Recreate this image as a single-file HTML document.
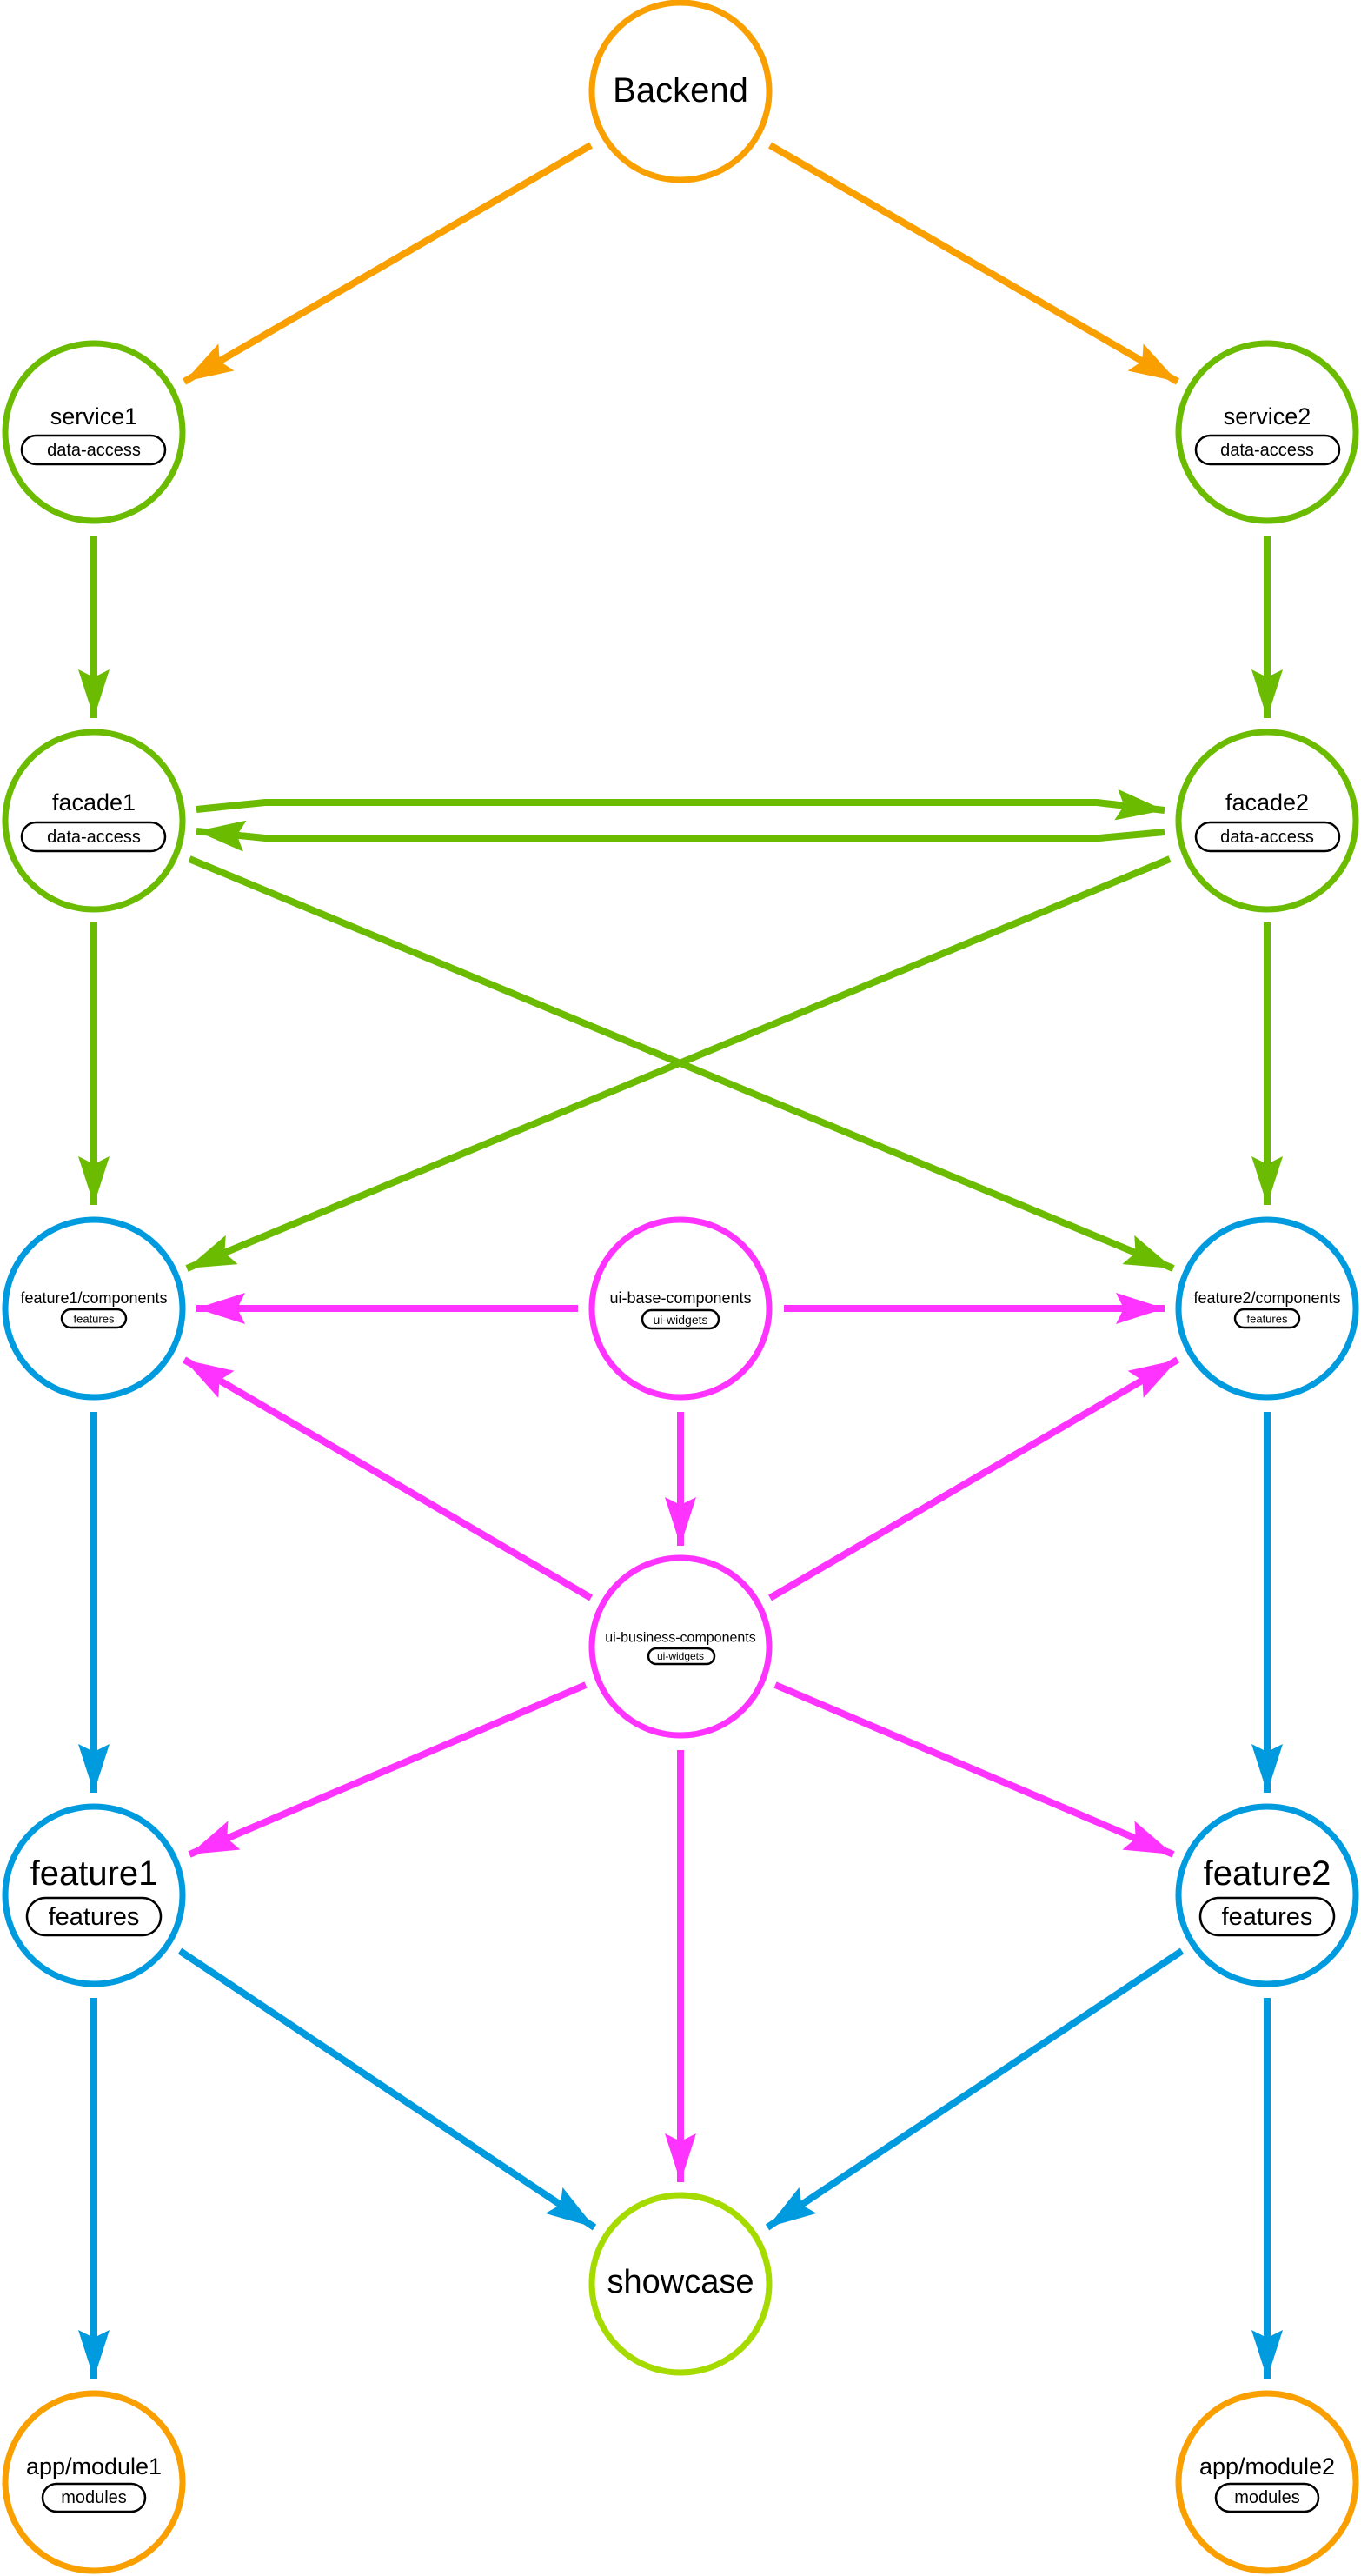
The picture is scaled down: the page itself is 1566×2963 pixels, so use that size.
<!DOCTYPE html>
<html><head><meta charset="utf-8"><style>
html,body{margin:0;padding:0;background:#fff;}
svg{display:block;}
text{font-family:"Liberation Sans",Arial,sans-serif;fill:#000;text-anchor:middle;dominant-baseline:central;}
</style></head><body>
<svg width="1566" height="2963" viewBox="0 0 1566 2963" xmlns="http://www.w3.org/2000/svg">
<defs>
<marker id="ao" markerUnits="userSpaceOnUse" viewBox="0 0 56 36" refX="56" refY="18" markerWidth="56" markerHeight="36" orient="auto"><path d="M0,0 L56,18 L0,36 L9,18 Z" fill="#F9A000"/></marker>
<marker id="ag" markerUnits="userSpaceOnUse" viewBox="0 0 56 36" refX="56" refY="18" markerWidth="56" markerHeight="36" orient="auto"><path d="M0,0 L56,18 L0,36 L9,18 Z" fill="#6BBB00"/></marker>
<marker id="ab" markerUnits="userSpaceOnUse" viewBox="0 0 56 36" refX="56" refY="18" markerWidth="56" markerHeight="36" orient="auto"><path d="M0,0 L56,18 L0,36 L9,18 Z" fill="#009ADE"/></marker>
<marker id="am" markerUnits="userSpaceOnUse" viewBox="0 0 56 36" refX="56" refY="18" markerWidth="56" markerHeight="36" orient="auto"><path d="M0,0 L56,18 L0,36 L9,18 Z" fill="#FF33FF"/></marker>
</defs>
<g fill="none" stroke-width="8">
<!-- orange -->
<line x1="680" y1="167" x2="212" y2="439" stroke="#F9A000" marker-end="url(#ao)"/>
<line x1="886" y1="167" x2="1355" y2="439" stroke="#F9A000" marker-end="url(#ao)"/>
<!-- green -->
<line x1="108" y1="616" x2="108" y2="826" stroke="#6BBB00" marker-end="url(#ag)"/>
<line x1="1458" y1="616" x2="1458" y2="826" stroke="#6BBB00" marker-end="url(#ag)"/>
<polyline points="226,931 305,923 1262,923 1340,932" stroke="#6BBB00" marker-end="url(#ag)"/>
<polyline points="1340,957 1265,964 305,964 226,956" stroke="#6BBB00" marker-end="url(#ag)"/>
<line x1="108" y1="1061" x2="108" y2="1386" stroke="#6BBB00" marker-end="url(#ag)"/>
<line x1="1458" y1="1061" x2="1458" y2="1386" stroke="#6BBB00" marker-end="url(#ag)"/>
<line x1="218" y1="988" x2="1350" y2="1459" stroke="#6BBB00" marker-end="url(#ag)"/>
<line x1="1346" y1="988" x2="215" y2="1459" stroke="#6BBB00" marker-end="url(#ag)"/>
<!-- magenta -->
<line x1="665" y1="1505" x2="226" y2="1505" stroke="#FF33FF" marker-end="url(#am)"/>
<line x1="902" y1="1505" x2="1340" y2="1505" stroke="#FF33FF" marker-end="url(#am)"/>
<line x1="783" y1="1624" x2="783" y2="1778" stroke="#FF33FF" marker-end="url(#am)"/>
<line x1="680" y1="1838" x2="212" y2="1564" stroke="#FF33FF" marker-end="url(#am)"/>
<line x1="886" y1="1838" x2="1355" y2="1564" stroke="#FF33FF" marker-end="url(#am)"/>
<line x1="674" y1="1938" x2="218" y2="2133" stroke="#FF33FF" marker-end="url(#am)"/>
<line x1="892" y1="1938" x2="1350" y2="2133" stroke="#FF33FF" marker-end="url(#am)"/>
<line x1="783" y1="2013" x2="783" y2="2510" stroke="#FF33FF" marker-end="url(#am)"/>
<!-- blue -->
<line x1="108" y1="1624" x2="108" y2="2062" stroke="#009ADE" marker-end="url(#ab)"/>
<line x1="1458" y1="1624" x2="1458" y2="2062" stroke="#009ADE" marker-end="url(#ab)"/>
<line x1="207" y1="2244" x2="684" y2="2562" stroke="#009ADE" marker-end="url(#ab)"/>
<line x1="1360" y1="2244" x2="883" y2="2562" stroke="#009ADE" marker-end="url(#ab)"/>
<line x1="108" y1="2298" x2="108" y2="2736" stroke="#009ADE" marker-end="url(#ab)"/>
<line x1="1458" y1="2298" x2="1458" y2="2736" stroke="#009ADE" marker-end="url(#ab)"/>
</g>
<g fill="#fff" stroke-width="7">
<circle cx="783" cy="105" r="102" stroke="#F9A000"/>
<circle cx="108" cy="497" r="102" stroke="#6BBB00"/>
<circle cx="1458" cy="497" r="102" stroke="#6BBB00"/>
<circle cx="108" cy="944" r="102" stroke="#6BBB00"/>
<circle cx="1458" cy="944" r="102" stroke="#6BBB00"/>
<circle cx="108" cy="1505" r="102" stroke="#009ADE"/>
<circle cx="783" cy="1505" r="102" stroke="#FF33FF"/>
<circle cx="1458" cy="1505" r="102" stroke="#009ADE"/>
<circle cx="783" cy="1894" r="102" stroke="#FF33FF"/>
<circle cx="108" cy="2180" r="102" stroke="#009ADE"/>
<circle cx="1458" cy="2180" r="102" stroke="#009ADE"/>
<circle cx="783" cy="2627" r="102" stroke="#A6DB00"/>
<circle cx="108" cy="2855" r="102" stroke="#F9A000"/>
<circle cx="1458" cy="2855" r="102" stroke="#F9A000"/>
</g>
<g fill="#fff" stroke="#000" stroke-width="2.5">
<rect x="25" y="501" width="165" height="33" rx="16.5"/>
<rect x="1376" y="501" width="165" height="33" rx="16.5"/>
<rect x="25" y="946" width="165" height="33" rx="16.5"/>
<rect x="1376" y="946" width="165" height="33" rx="16.5"/>
<rect x="71" y="1506" width="74" height="21" rx="10.5"/>
<rect x="1421" y="1506" width="74" height="21" rx="10.5"/>
<rect x="739" y="1507" width="88" height="21" rx="10.5"/>
<rect x="746" y="1896" width="76" height="18" rx="9"/>
<rect x="31" y="2183" width="154" height="43" rx="21.5"/>
<rect x="1381" y="2183" width="154" height="43" rx="21.5"/>
<rect x="49" y="2857" width="118" height="32" rx="16"/>
<rect x="1399" y="2857" width="118" height="32" rx="16"/>
</g>
<text x="783" y="104" font-size="40">Backend</text>
<text x="108" y="479" font-size="27">service1</text>
<text x="108" y="518" font-size="20">data-access</text>
<text x="1458" y="479" font-size="27">service2</text>
<text x="1458" y="518" font-size="20">data-access</text>
<text x="108" y="923" font-size="27">facade1</text>
<text x="108" y="963" font-size="20">data-access</text>
<text x="1458" y="923" font-size="27">facade2</text>
<text x="1458" y="963" font-size="20">data-access</text>
<text x="108" y="1493" font-size="18">feature1/components</text>
<text x="108" y="1517" font-size="13">features</text>
<text x="1458" y="1493" font-size="18">feature2/components</text>
<text x="1458" y="1517" font-size="13">features</text>
<text x="783" y="1493" font-size="18">ui-base-components</text>
<text x="783" y="1518" font-size="14">ui-widgets</text>
<text x="783" y="1884" font-size="16">ui-business-components</text>
<text x="783" y="1905" font-size="12">ui-widgets</text>
<text x="108" y="2155" font-size="40">feature1</text>
<text x="108" y="2205" font-size="29">features</text>
<text x="1458" y="2155" font-size="40">feature2</text>
<text x="1458" y="2205" font-size="29">features</text>
<text x="783" y="2625" font-size="38">showcase</text>
<text x="108" y="2837" font-size="27">app/module1</text>
<text x="108" y="2873" font-size="20">modules</text>
<text x="1458" y="2837" font-size="27">app/module2</text>
<text x="1458" y="2873" font-size="20">modules</text>
</svg>
</body></html>
